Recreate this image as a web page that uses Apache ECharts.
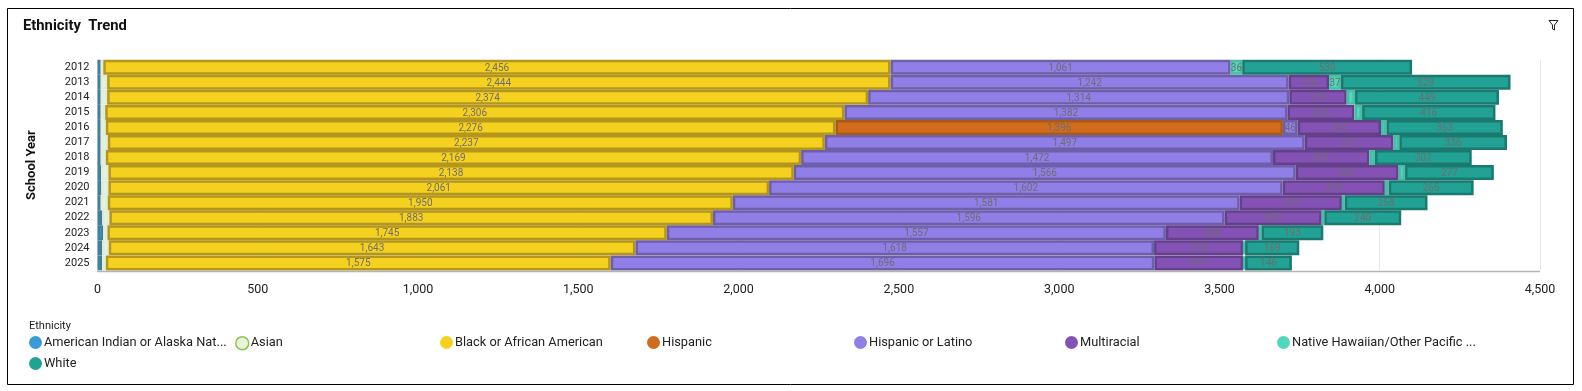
<!DOCTYPE html>
<html>
<head>
<meta charset="utf-8">
<style>html,body{margin:0;padding:0;background:#fff}#c{width:1582px;height:391px}</style>
<script src="https://cdn.jsdelivr.net/npm/echarts@6/dist/echarts.min.js"></script>
</head>
<body>
<div id="c"></div>
<script>
const years = ['2012','2013','2014','2015','2016','2017','2018','2019','2020','2021','2022','2023','2024','2025'];
const americanIndian = [10,10,10,10,10,10,10,11,12,10,15,18,15,14];
const asian = [8,20,20,14,16,22,16,23,22,22,22,13,20,12];
const black = [2456,2444,2374,2306,2276,2237,2169,2138,2061,1950,1883,1745,1643,1575];
const hispanic = [null,null,null,null,1396,null,null,null,null,null,null,null,null,null];
const hispanicLatino = [1061,1242,1314,1382,46,1497,1472,1566,1602,1581,1596,1557,1618,1696];
const multiracial = [null,126,179,209,260,277,301,321,319,319,303,290,278,277];
const nativeHawaiian = [36,37,26,24,17,18,17,20,12,9,8,8,6,6];
const white = [530,529,449,416,363,336,302,277,265,258,240,193,169,146];
const xTicks = [0,500,1000,1500,2000,2500,3000,3500,4000,4500];

const FONT = 'Roboto, "Noto Sans", sans-serif';
const fmt = v => Number(v).toLocaleString('en-US');
const lab = { show:true, position:'inside', offset:[0,1], color:'#6f6c72', fontSize:10, fontFamily:FONT, formatter:p => fmt(p.value) };
function bar(name, data, fill, edge, label){
  return { name, type:'bar', stack:'t', data, barWidth:15, barCategoryGap:0,
    itemStyle:{ color:fill, borderColor:edge, borderWidth:2.5 },
    label: label || {show:false}, emphasis:{disabled:true} };
}
const defs = [
  ['American Indian or Alaska Native', '#3a9ad9', 29, 343, 'American Indian or Alaska Nat...'],
  ['Asian', '#e8f2dc', 235, 343, 'Asian'],
  ['Black or African American', '#f5d11f', 440, 343, 'Black or African American'],
  ['Hispanic', '#d06c1c', 647, 343, 'Hispanic'],
  ['Hispanic or Latino', '#917fe8', 854, 343, 'Hispanic or Latino'],
  ['Multiracial', '#8452b5', 1065, 343, 'Multiracial'],
  ['Native Hawaiian/Other Pacific Islander', '#52d9bb', 1277, 343, 'Native Hawaiian/Other Pacific ...'],
  ['White', '#22a294', 29, 364, 'White']
];
const legends = defs.map(d => ({
  left:d[2], top:d[3]-7, padding:0, orient:'horizontal', icon:'circle', itemWidth:13, itemHeight:13, itemGap:0,
  selectedMode:false,
  data:[{ name:d[0], itemStyle: d[0]==='Asian' ? {color:d[1],borderColor:'#8cc84b',borderWidth:1.5} : {color:d[1],borderWidth:0} }],
  formatter:() => d[4],
  textStyle:{ fontFamily:FONT, fontSize:12.8, color:'#222', padding:[0,0,0,-3] }
}));

const chart = echarts.init(document.getElementById('c'), null, {renderer:'canvas'});
chart.setOption({
  animation:false,
  backgroundColor:'#fff',
  legend:legends,
  grid:{ left:97.5, right:42, top:59.7, bottom:120.6, containLabel:false },
  xAxis:{ type:'value', min:0, max:4500, interval:500,
    axisLine:{show:false}, axisTick:{show:false},
    splitLine:{show:true,lineStyle:{color:'#e8e8e8',width:1}},
    axisLabel:{ margin:12.5, fontSize:12.5, color:'#222', fontFamily:FONT, formatter:v => fmt(xTicks[xTicks.indexOf(v)]) } },
  yAxis:{ type:'category', data:years, inverse:true,
    axisLine:{show:false}, axisTick:{show:false},
    axisLabel:{ margin:8, fontSize:11, color:'#222', fontFamily:FONT, padding:[2,0,0,0] },
    name:'School Year', nameLocation:'middle', nameGap:59, nameRotate:90,
    nameTextStyle:{ fontSize:13, fontWeight:'bold', color:'#111', fontFamily:FONT } },
  series:[
    bar(defs[0][0], americanIndian, '#3a9ad9', '#417f9f'),
    bar(defs[1][0], asian, '#e8f2dc', '#e2edd8'),
    bar(defs[2][0], black, '#f5d11f', '#b3961b', lab),
    bar(defs[3][0], hispanic, '#d06c1c', '#a85a18', lab),
    bar(defs[4][0], hispanicLatino, '#917fe8', '#6f5fa8', lab),
    bar(defs[5][0], multiracial, '#8452b5', '#64408a', lab),
    bar(defs[6][0], nativeHawaiian, '#52d9bb', '#45c0a6',
      Object.assign({}, lab, { formatter:p => p.value >= 30 ? fmt(p.value) : '' })),
    bar(defs[7][0], white, '#22a294', '#1a7a70', lab)
  ],
  graphic:[
    { type:'rect', silent:true, z:-1, shape:{x:7.5,y:8.5,width:1566,height:376}, style:{fill:'none',stroke:'#000',lineWidth:1} },
    { type:'text', left:23, top:19, style:{ text:'Ethnicity  Trend', font:'bold 14.8px '+FONT, fill:'#111' } },
    { type:'text', left:29, top:321, style:{ text:'Ethnicity', font:'11px '+FONT, fill:'#222' } },
    { type:'line', silent:true, z:10, shape:{x1:97,y1:271.5,x2:1540,y2:271.5}, style:{stroke:'#b4b4b4',lineWidth:1.5} },
    { type:'polyline', silent:true, shape:{points:[[1549,20.5],[1558,20.5],[1554.5,25],[1554.5,30],[1552.5,29],[1552.5,25],[1549,20.5]]}, style:{fill:'none',stroke:'#222',lineWidth:1} }
  ]
});
</script>
</body>
</html>
